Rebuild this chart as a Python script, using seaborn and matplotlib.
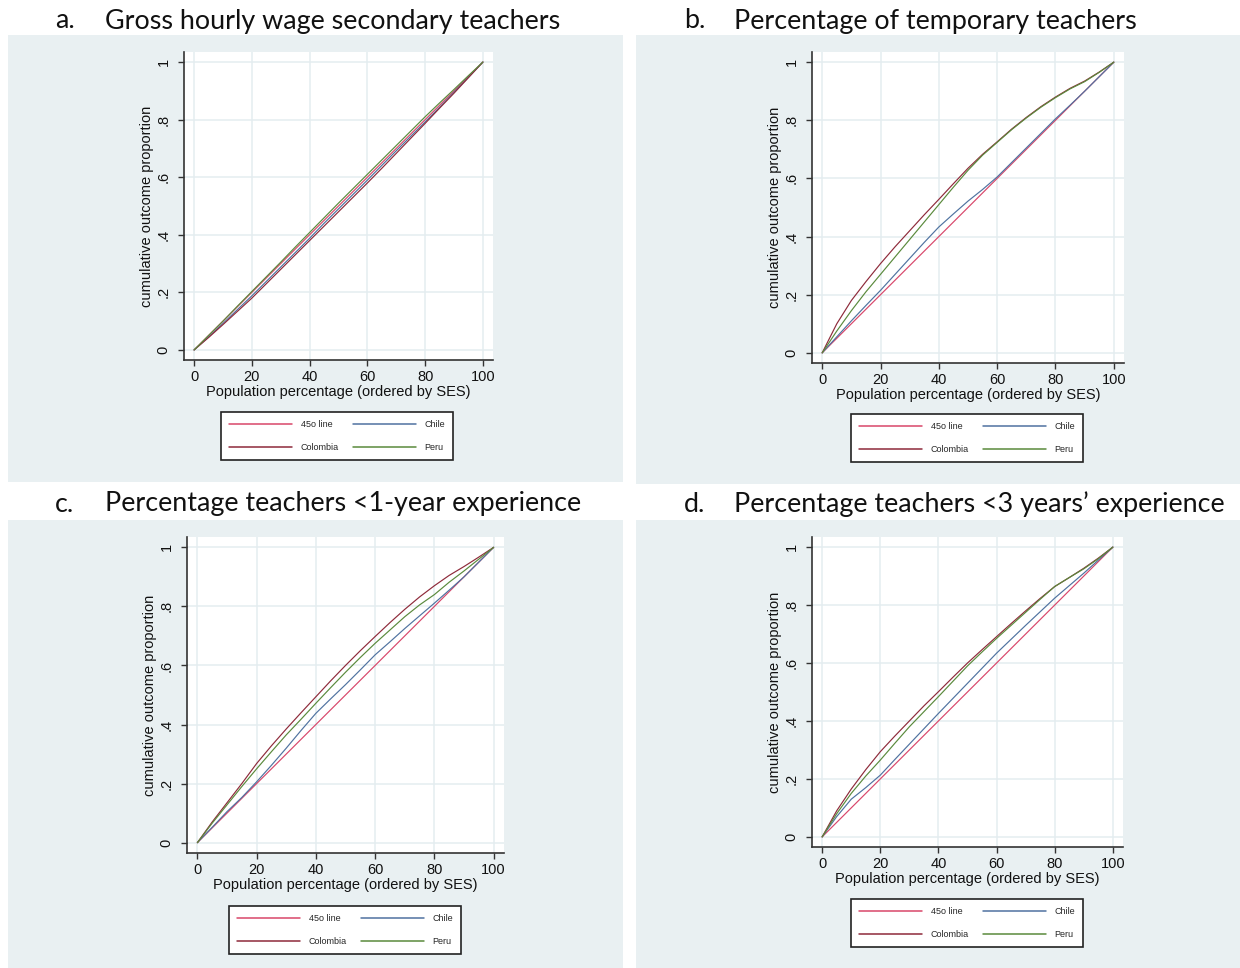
import matplotlib
matplotlib.use("Agg")
import matplotlib.pyplot as plt
from matplotlib.lines import Line2D
import seaborn as sns

# ---- data -------------------------------------------------------------
pop_pct = [0, 5, 10, 15, 20, 25, 30, 35, 40, 45, 50,
           55, 60, 65, 70, 75, 80, 85, 90, 95, 100]
line45 = [0.0, 0.05, 0.1, 0.15, 0.2, 0.25, 0.3, 0.35, 0.4, 0.45, 0.5,
          0.55, 0.6, 0.65, 0.7, 0.75, 0.8, 0.85, 0.9, 0.95, 1.0]

# a. Gross hourly wage secondary teachers
wage_chile = [0.0, 0.045, 0.092, 0.14, 0.188, 0.238, 0.288, 0.338, 0.388, 0.44, 0.49,
              0.54, 0.59, 0.641, 0.692, 0.742, 0.792, 0.843, 0.895, 0.947, 1.0]
wage_colombia = [0.0, 0.043, 0.088, 0.134, 0.18, 0.23, 0.28, 0.33, 0.38, 0.43, 0.48,
                 0.53, 0.58, 0.631, 0.683, 0.735, 0.787, 0.84, 0.892, 0.946, 1.0]
wage_peru = [0.0, 0.05, 0.1, 0.152, 0.203, 0.254, 0.305, 0.357, 0.408, 0.459, 0.51,
             0.56, 0.61, 0.66, 0.71, 0.76, 0.81, 0.858, 0.905, 0.953, 1.0]

# b. Percentage of temporary teachers
temp_chile = [0.0, 0.055, 0.11, 0.163, 0.215, 0.27, 0.325, 0.38, 0.433, 0.478, 0.522,
              0.562, 0.605, 0.655, 0.705, 0.755, 0.805, 0.852, 0.9, 0.95, 1.0]
temp_colombia = [0.0, 0.1, 0.18, 0.245, 0.307, 0.365, 0.42, 0.475, 0.528, 0.582, 0.635,
                 0.683, 0.726, 0.77, 0.81, 0.847, 0.88, 0.91, 0.935, 0.966, 1.0]
temp_peru = [0.0, 0.075, 0.145, 0.21, 0.27, 0.33, 0.39, 0.45, 0.51, 0.57, 0.628,
             0.68, 0.724, 0.768, 0.808, 0.845, 0.878, 0.908, 0.933, 0.965, 1.0]

# c. Percentage teachers <1-year experience
exp1_chile = [0.0, 0.052, 0.105, 0.153, 0.206, 0.262, 0.32, 0.38, 0.438, 0.487, 0.535,
              0.585, 0.636, 0.68, 0.725, 0.768, 0.811, 0.855, 0.9, 0.95, 1.0]
exp1_colombia = [0.0, 0.07, 0.135, 0.2, 0.268, 0.328, 0.385, 0.44, 0.494, 0.548, 0.6,
                 0.65, 0.698, 0.745, 0.79, 0.832, 0.87, 0.905, 0.935, 0.967, 1.0]
exp1_peru = [0.0, 0.066, 0.128, 0.19, 0.25, 0.308, 0.365, 0.418, 0.472, 0.525, 0.577,
             0.627, 0.675, 0.72, 0.765, 0.805, 0.84, 0.882, 0.92, 0.96, 1.0]

# d. Percentage teachers <3 years' experience
exp3_chile = [0.0, 0.07, 0.13, 0.17, 0.213, 0.267, 0.32, 0.373, 0.426, 0.478, 0.53,
              0.582, 0.634, 0.682, 0.73, 0.777, 0.824, 0.867, 0.91, 0.955, 1.0]
exp3_colombia = [0.0, 0.09, 0.165, 0.232, 0.294, 0.348, 0.4, 0.452, 0.501, 0.551, 0.6,
                 0.646, 0.691, 0.736, 0.78, 0.823, 0.864, 0.895, 0.927, 0.962, 1.0]
exp3_peru = [0.0, 0.08, 0.15, 0.21, 0.265, 0.323, 0.38, 0.432, 0.484, 0.537, 0.59,
             0.638, 0.685, 0.73, 0.775, 0.82, 0.864, 0.895, 0.925, 0.96, 1.0]

series_names = ["45o line", "Chile", "Colombia", "Peru"]
series_colors = ["#d8466a", "#4f72a0", "#8e2a3a", "#5a8a3c"]

y_ticks = [0, 0.2, 0.4, 0.6, 0.8, 1.0]
y_tick_labels = ["0", ".2", ".4", ".6", ".8", "1"]
x_ticks = [0, 20, 40, 60, 80, 100]

# ---- figure -----------------------------------------------------------
W, H = 1240, 968
sns.set_theme(style="white")
plt.rcParams["font.family"] = ["Liberation Sans", "DejaVu Sans"]
fig = plt.figure(figsize=(W / 100, H / 100), dpi=100)
fig.patch.set_facecolor("white")

PANEL_BG = "#e9f0f2"
GRID = "#e4edf0"
TITLE_FONT = ["Lato", "DejaVu Sans"]


def frac_rect(x0, y0, x1, y1):
    """Pixel box (top-left origin) -> figure fraction [l, b, w, h]."""
    return [x0 / W, 1 - y1 / H, (x1 - x0) / W, (y1 - y0) / H]


def draw_panel(letter, title, title_pos, bg_box, ax_box, legend_center, data):
    # shaded backdrop behind each graph
    bg = fig.add_axes(frac_rect(*bg_box), zorder=0)
    bg.set_facecolor(PANEL_BG)
    bg.set_xticks([])
    bg.set_yticks([])
    for s in bg.spines.values():
        s.set_visible(False)

    lx, tx, ty = title_pos
    fig.text(lx / W, 1 - ty / H, letter, family=TITLE_FONT,
             fontsize=19.4, ha="left", va="center", color="#111111")
    fig.text(tx / W, 1 - ty / H, title, family=TITLE_FONT,
             fontsize=19.4, ha="left", va="center", color="#111111")

    ax = fig.add_axes(frac_rect(*ax_box), zorder=1)
    ax.set_facecolor("white")
    for name, color, vals in zip(series_names, series_colors, data):
        sns.lineplot(x=pop_pct, y=vals, ax=ax, color=color, linewidth=0.85,
                     estimator=None, sort=False, legend=False)
    ax.set_xlim(-3.5, 103.5)
    ax.set_ylim(-0.035, 1.035)
    ax.set_xticks(x_ticks)
    ax.set_xticklabels([str(t) for t in x_ticks])
    ax.set_yticks(y_ticks)
    ax.set_yticklabels(y_tick_labels, rotation=90, va="center")
    ax.grid(True, color=GRID, linewidth=1.1)
    ax.set_axisbelow(True)
    for s in ("top", "right"):
        ax.spines[s].set_visible(False)
    for s in ("left", "bottom"):
        ax.spines[s].set_color("#333333")
        ax.spines[s].set_linewidth(1.2)
    ax.tick_params(axis="both", which="major", direction="out", length=4.5,
                   width=1.0, color="#333333", labelsize=10.5,
                   labelcolor="#111111", left=True, bottom=True)
    ax.tick_params(axis="y", pad=5)
    ax.tick_params(axis="x", pad=3)
    ax.set_xlabel("Population percentage (ordered by SES)", fontsize=10.5,
                  labelpad=0.5, color="#111111")
    ax.set_ylabel("cumulative outcome proportion", fontsize=10.5,
                  labelpad=2, color="#111111")

    handles = [Line2D([], [], color=series_colors[i], linewidth=1.1)
               for i in (0, 2, 1, 3)]
    labels = [series_names[i] for i in (0, 2, 1, 3)]
    cx, cy = legend_center
    leg = ax.legend(handles, labels, loc="center",
                    bbox_to_anchor=(cx / W, 1 - cy / H),
                    bbox_transform=fig.transFigure, ncol=2,
                    fontsize=6.5, handlelength=7.0, handletextpad=1.0,
                    columnspacing=1.5, labelspacing=1.5, borderpad=0.9,
                    frameon=True, fancybox=False)
    frame = leg.get_frame()
    frame.set_edgecolor("#222222")
    frame.set_linewidth(1.2)
    frame.set_facecolor("white")
    frame.set_alpha(1)
    return ax


draw_panel("a.", "Gross hourly wage secondary teachers", (55, 105, 21),
           (8, 35, 623, 482), (184, 52, 493, 360), (337, 436),
           [line45, wage_chile, wage_colombia, wage_peru])
draw_panel("b.", "Percentage of temporary teachers", (684, 734, 21),
           (636, 35, 1240, 484), (812, 52, 1124, 363), (967, 438),
           [line45, temp_chile, temp_colombia, temp_peru])
draw_panel("c.", "Percentage teachers <1-year experience", (55, 105, 504),
           (8, 520, 623, 968), (187, 537, 504, 853), (345, 930),
           [line45, exp1_chile, exp1_colombia, exp1_peru])
draw_panel("d.", "Percentage teachers <3 years\u2019 experience", (684, 734, 504),
           (636, 520, 1240, 968), (812, 537, 1123, 847), (967, 923),
           [line45, exp3_chile, exp3_colombia, exp3_peru])

fig.savefig("out.png", dpi=100, facecolor="white")
